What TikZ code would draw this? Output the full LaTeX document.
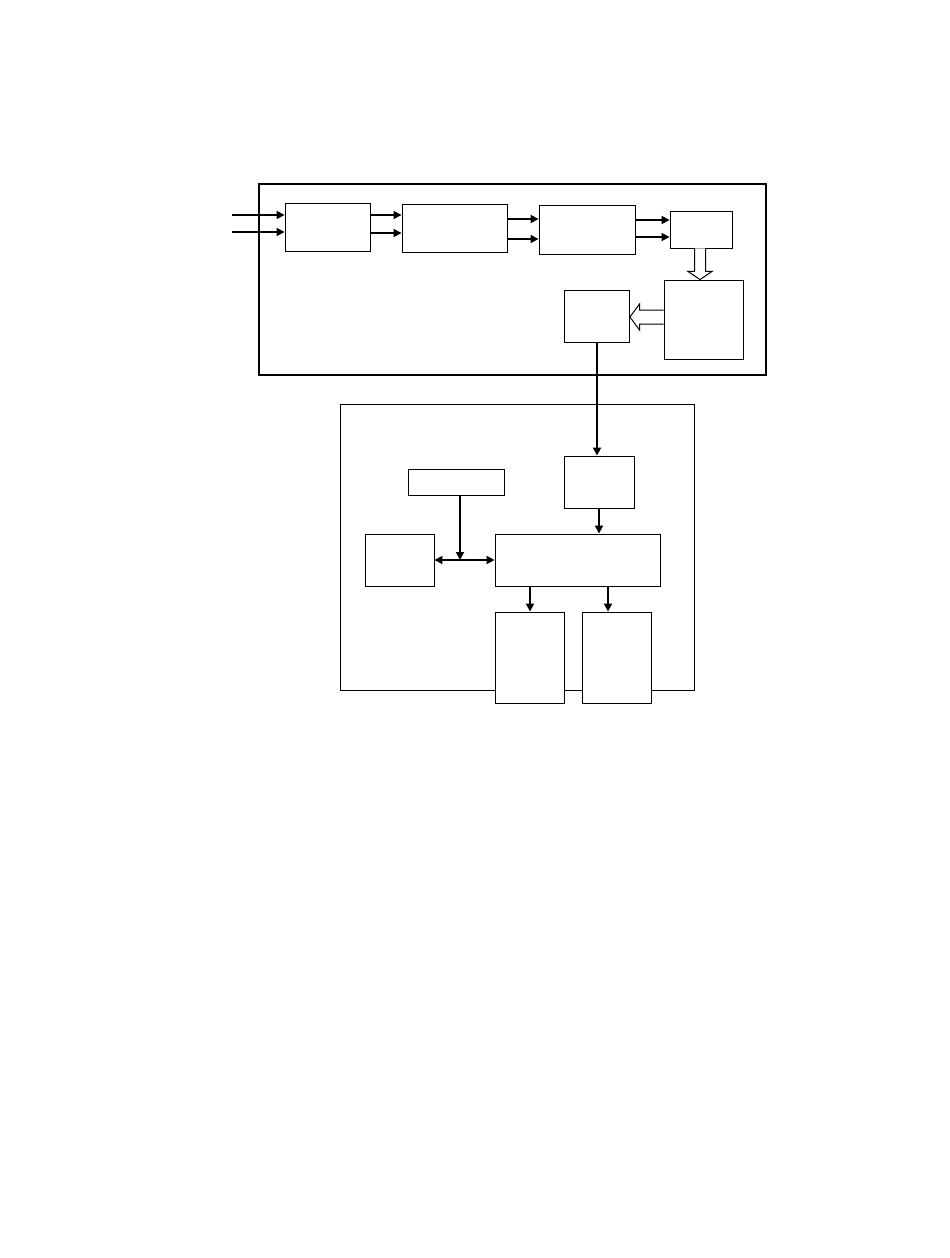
\documentclass[tikz,border=0pt]{standalone}
\usepackage{tikz}
\usetikzlibrary{arrows.meta,calc}

\begin{document}
\begin{tikzpicture}[
  x=1pt, y=-1pt,
  box/.style={draw, line width=0.9pt, fill=white, inner sep=0pt},
  frame/.style={draw, line width=0.9pt},
  arr/.style={-{Triangle[length=8pt,width=8pt]}, line width=1.8pt},
  biarr/.style={{Triangle[length=8pt,width=8pt]}-{Triangle[length=8pt,width=8pt]}, line width=1.8pt},
  hollow/.style={draw, line width=1pt, fill=white, line join=miter}
]
\useasboundingbox (0,0) rectangle (950,1258);
% upper unit
\draw[frame, line width=1.8pt] (259,184) rectangle (766,375);
\node[box, minimum width=85pt, minimum height=48pt] (recv) at (327.5,227) {};
\node[box, minimum width=105pt, minimum height=48pt] (filt) at (454.5,228) {};
\node[box, minimum width=96pt, minimum height=49pt] (conv) at (587,229.5) {};
\node[box, minimum width=62pt, minimum height=37pt] (proc) at (701,229.5) {};
\node[box, minimum width=79pt, minimum height=79pt] (mem) at (703.5,319.5) {};
\node[box, minimum width=65pt, minimum height=52pt] (out) at (597,316) {};
\coordinate (in1) at (232,215);
\coordinate (in2) at (232,232);
\draw[arr] (in1) -- (in1 -| recv.west);
\draw[arr] (in2) -- (in2 -| recv.west);
\draw[arr] ([yshift=12pt]recv.east) -- ([yshift=12pt]recv.east -| filt.west);
\draw[arr] ([yshift=-6pt]recv.east) -- ([yshift=-6pt]recv.east -| filt.west);
\draw[arr] ([yshift=9pt]filt.east) -- ([yshift=9pt]filt.east -| conv.west);
\draw[arr] ([yshift=-11pt]filt.east) -- ([yshift=-11pt]filt.east -| conv.west);
\draw[arr] ([yshift=9.5pt]conv.east) -- ([yshift=9.5pt]conv.east -| proc.west);
\draw[arr] ([yshift=-7.5pt]conv.east) -- ([yshift=-7.5pt]conv.east -| proc.west);
% hollow arrows
\coordinate (dd) at ($(proc.south)+(-1,0)$);
\draw[hollow] ($(dd)+(-5.5,0)$) -- ($(dd)+(-5.5,23)$) -- ($(dd)+(-12,23)$) -- (dd |- mem.north)
  -- ($(dd)+(12,23)$) -- ($(dd)+(5.5,23)$) -- ($(dd)+(5.5,0)$);
\coordinate (ee) at ($(mem.west)+(0,-2.5)$);
\draw[hollow] ($(ee)+(0,-7)$) -- ($(ee)+(-24,-7)$) -- ($(ee)+(-24,-13)$) -- (ee -| out.east)
  -- ($(ee)+(-24,13)$) -- ($(ee)+(-24,7)$) -- ($(ee)+(0,7)$);
% lower unit
\draw[frame] (340,404) rectangle (694,690);
\node[box, minimum width=70pt, minimum height=52pt] (dec) at (599,482) {};
\node[box, minimum width=96pt, minimum height=26pt] (clk) at (456,482) {};
\node[box, minimum width=69pt, minimum height=52pt] (ram) at (399.5,560) {};
\node[box, minimum width=165pt, minimum height=52pt] (cpu) at (577.5,560) {};
\node[box, minimum width=69pt, minimum height=91pt] (dispa) at (530,657.5) {};
\node[box, minimum width=69pt, minimum height=91pt] (dispb) at (616.5,657.5) {};
\draw[arr] (out.south) -- (out.south |- dec.north);
\draw[arr] (dec.south) -- (dec.south |- cpu.north);
\draw[arr] ([xshift=4pt]clk.south) -- ([xshift=4pt]clk.south |- cpu.west);
\draw[biarr] (ram.east) -- (cpu.west);
\draw[arr] (dispa.north |- cpu.south) -- (dispa.north);
\draw[arr] ([xshift=-8.5pt]dispb.north |- cpu.south) -- ([xshift=-8.5pt]dispb.north);
\end{tikzpicture}
\end{document}
